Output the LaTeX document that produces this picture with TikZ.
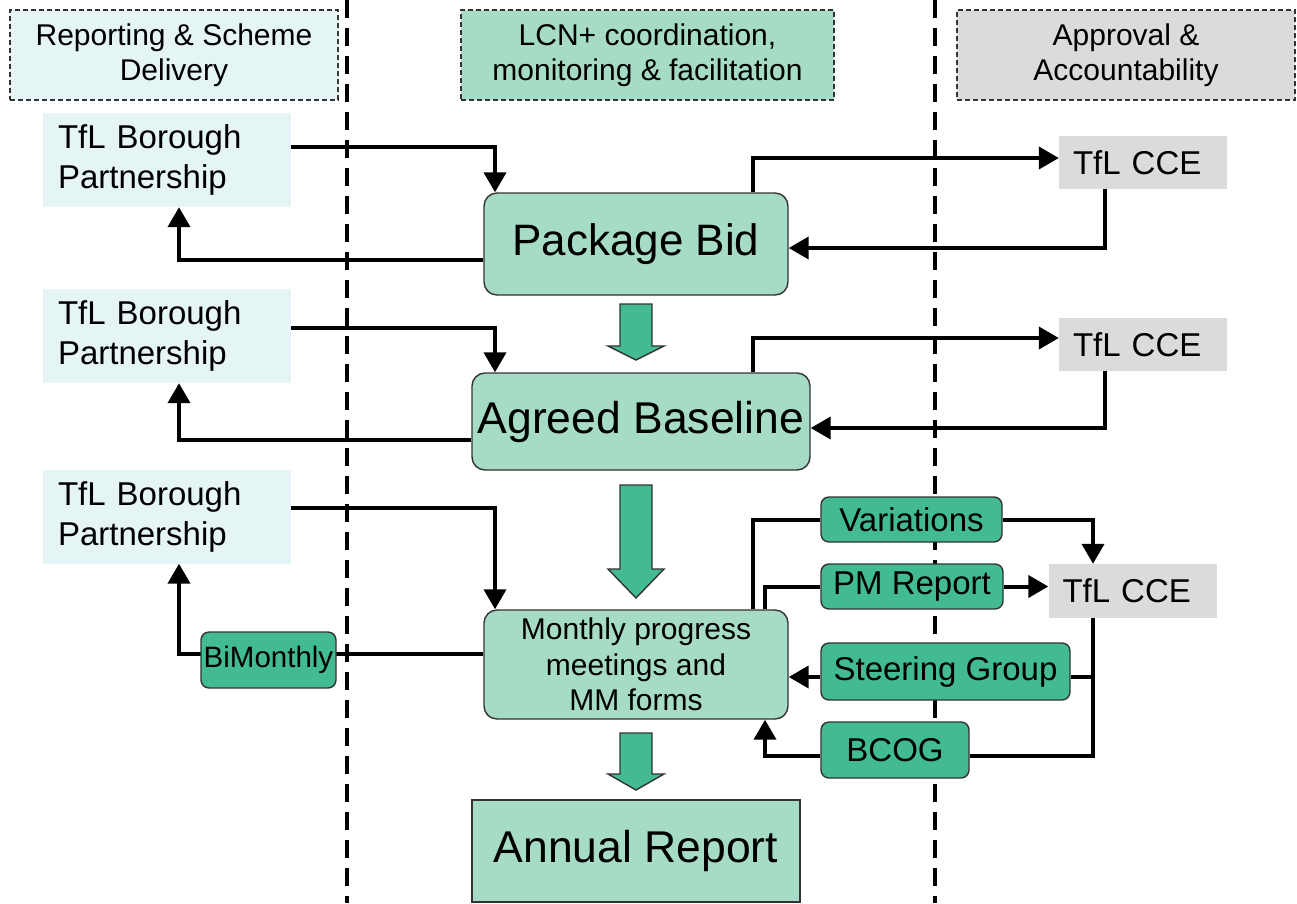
\documentclass[tikz,border=0pt]{standalone}
\usepackage{fontspec}
\setmainfont{Liberation Sans}
\usetikzlibrary{arrows.meta,calc}
\pgfdeclarelayer{bg}
\pgfsetlayers{bg,main}
\definecolor{lgreen}{HTML}{A6DBC5}
\definecolor{dgreen}{HTML}{42BB93}
\definecolor{lcyan}{HTML}{E5F4F5}
\definecolor{lgray}{HTML}{DBDBDB}
\definecolor{edge}{HTML}{333333}
\tikzset{
  hdr/.style={draw=edge, line width=1.3pt, dash pattern=on 5pt off 3pt, align=center, inner sep=0pt,
     font=\fontsize{30}{35}\selectfont},
  bpbox/.style={fill=lcyan, inner xsep=15pt, inner ysep=0pt, text width=218pt, align=left,
     minimum height=94pt, font=\fontsize{33}{40}\selectfont},
  ccebox/.style={fill=lgray, inner xsep=14pt, inner ysep=0pt, text width=140pt, align=left,
     font=\fontsize{33}{40}\selectfont},
  mainbox/.style={draw=edge, line width=1.4pt, fill=lgreen, rounded corners=13pt, inner sep=0pt, align=center},
  tagbox/.style={draw=edge, line width=1.4pt, fill=dgreen, rounded corners=8pt, inner sep=0pt, align=center,
     font=\fontsize{33}{40}\selectfont},
  conn/.style={line width=4pt, -{Triangle[length=20pt,width=22pt]}},
  plain/.style={line width=4pt},
  lane/.style={line width=3.5pt, dash pattern=on 18pt off 10pt},
  blockarrow/.style={draw=edge, line width=1.4pt, fill=dgreen, line join=miter},
}
\begin{document}
\begin{tikzpicture}[x=1pt,y=-1pt]
\useasboundingbox (0,0) rectangle (1297,903);

% header boxes
\node[hdr, fill=lcyan, minimum width=328pt, minimum height=90pt] (h1) at (174,55) {Reporting \& Scheme\\Delivery};
\node[hdr, fill=lgreen, minimum width=373pt, minimum height=90pt] (h2) at (647.5,55) {LCN+ coordination,\\monitoring \& facilitation};
\node[hdr, fill=lgray, minimum width=338pt, minimum height=90pt] (h3) at (1126,55) {Approval \&\\Accountability};

% left boxes
\node[bpbox] (bp1) at (167,160) {TfL Borough\\Partnership};
\node[bpbox] (bp2) at (167,336) {TfL Borough\\Partnership};
\node[bpbox] (bp3) at (167,516.5) {TfL Borough\\Partnership};

% main boxes
\node[mainbox, minimum width=304pt, minimum height=102pt, font=\fontsize{44}{50}\selectfont] (pb) at (636,244) {Package Bid};
\node[mainbox, minimum width=338pt, minimum height=97pt, font=\fontsize{44.5}{50}\selectfont] (ab) at (641,421.5) {Agreed Baseline};
\node[mainbox, minimum width=304pt, minimum height=109pt, font=\fontsize{30}{35.5}\selectfont] (mm) at (636,664.5) {Monthly progress\\meetings and\\MM forms};
\node[draw=edge, line width=1.4pt, fill=lgreen, inner sep=0pt, minimum width=328pt, minimum height=102pt, font=\fontsize{44.5}{50}\selectfont] (ar) at (636,851) {Annual Report};

% CCE boxes
\node[ccebox, minimum height=53pt] (cce1) at (1143,162.5) {TfL CCE};
\node[ccebox, minimum height=53pt] (cce2) at (1143,344.5) {TfL CCE};
\node[ccebox, minimum height=54pt] (cce3) at (1132.5,591) {TfL CCE};

% tag boxes
\node[tagbox, minimum width=181pt, minimum height=45pt] (var) at (911.5,519.5) {Variations};
\node[tagbox, minimum width=182pt, minimum height=45pt] (pm) at (912,586.5) {PM Report};
\node[tagbox, minimum width=249pt, minimum height=57pt] (sg) at (945.5,671.5) {Steering Group};
\node[tagbox, minimum width=148pt, minimum height=56pt] (bcog) at (895,750) {BCOG};
\node[tagbox, minimum width=135pt, minimum height=56pt, font=\fontsize{29.5}{35}\selectfont] (bim) at (268.5,660) {BiMonthly};

% block arrows
\draw[blockarrow] (620,304) -- (652,304) -- (652,346) -- (664,346) -- (636,360) -- (608,346) -- (620,346) -- cycle;
\draw[blockarrow] (620,485) -- (652,485) -- (652,569) -- (664,569) -- (636,598) -- (608,569) -- (620,569) -- cycle;
\draw[blockarrow] (620,733) -- (652,733) -- (652,774) -- (664,774) -- (636,790) -- (608,774) -- (620,774) -- cycle;

\begin{pgfonlayer}{bg}
% lanes
\draw[lane] (347,0) -- (347,903);
\draw[lane] (935,0) -- (935,903);

% row 1
\draw[conn] ([yshift=13pt]bp1.east) -| ([xshift=-141pt]pb.north);
\draw[conn] ([yshift=-16pt]pb.west) -| ([xshift=12pt]bp1.south);
\draw[conn] ([xshift=117pt]pb.north) |- ([yshift=4.5pt]cce1.west);
\draw[conn] ([xshift=-38pt]cce1.south) |- ([yshift=-4pt]pb.east);

% row 2
\draw[conn] ([yshift=8pt]bp2.east) -| ([xshift=-146pt]ab.north);
\draw[conn] ([yshift=-18.5pt]ab.west) -| ([xshift=12pt]bp2.south);
\draw[conn] ([xshift=112pt]ab.north) |- ([yshift=6.5pt]cce2.west);
\draw[conn] ([xshift=-38pt]cce2.south) |- ([yshift=-6.5pt]ab.east);

% row 3
\draw[conn] ([yshift=8.5pt]bp3.east) -| ([xshift=-141pt]mm.north);
\draw[conn] ([yshift=10.5pt]mm.west) -| ([xshift=12pt]bp3.south);
\draw[plain] ([xshift=117pt]mm.north) |- (var.west);
\draw[conn] (var.east) -| ([xshift=-39.5pt]cce3.north);
\draw[plain] ([xshift=129pt]mm.north) |- (pm.west);
\draw[conn] (pm.east) -- (pm.east -| cce3.west);
\draw[plain] ([xshift=-39.5pt]cce3.south) |- ([yshift=-6pt]bcog.east);
\draw[plain] ([yshift=-5.5pt]sg.east) -- ([yshift=-5.5pt,xshift=-39.5pt]cce3.south |- sg.east);
\draw[conn] ([yshift=-5.5pt]sg.west) -- ([yshift=-5.5pt]sg.west -| mm.east);
\draw[conn] ([yshift=-6pt]bcog.west) -| ([xshift=129pt]mm.south);
\end{pgfonlayer}
\end{tikzpicture}
\end{document}
